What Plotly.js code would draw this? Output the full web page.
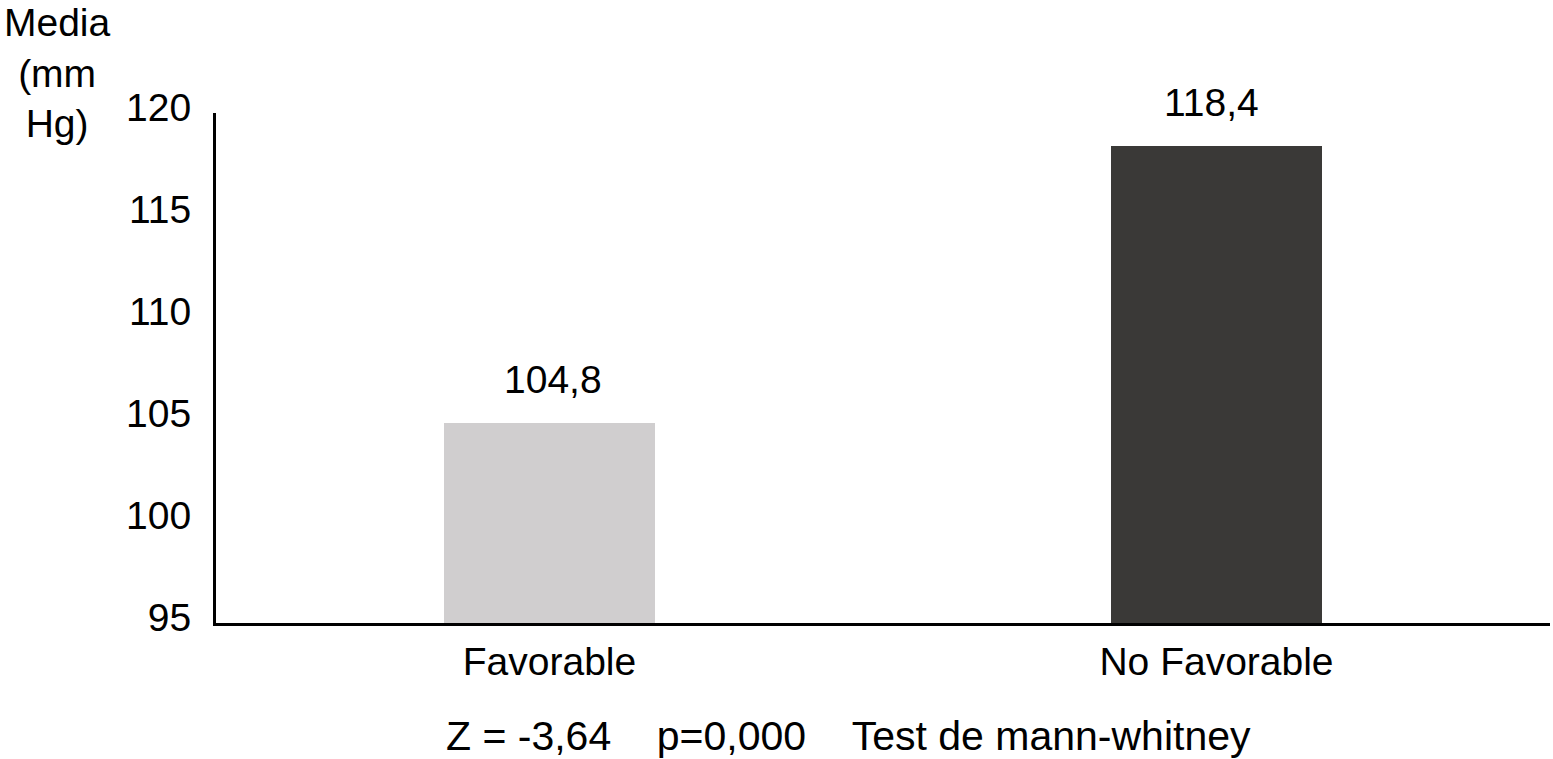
<!DOCTYPE html>
<html>
<head>
<meta charset="utf-8">
<script src="https://cdn.plot.ly/plotly-3.0.1.min.js"></script>
<style>html,body{margin:0;padding:0;background:#fff;}#chart{width:1553px;height:759px;}</style>
</head>
<body>
<div id="chart"></div>
<script>
const categories = ["Favorable", "No Favorable"];
const meanValues = [104.8, 118.4];
const barColors = ["#d0cecf", "#3a3937"];
const yTicks = [95, 100, 105, 110, 115, 120];
const yTitle = "Media<br>(mm<br>Hg)";
const footnote = "Z = -3,64&nbsp;&nbsp;&nbsp;&nbsp;p=0,000&nbsp;&nbsp;&nbsp;&nbsp;Test de mann-whitney";
const axisBase = 95;

const FONT = "Liberation Sans, Arial, Helvetica, sans-serif";

const trace = {
  type: "bar",
  x: categories,
  y: meanValues.map(v => v - axisBase),
  base: axisBase,
  width: 0.315,
  marker: {color: barColors, line: {width: 0}},
  hoverinfo: "x"
};

const labelAnnotations = categories.map((c, i) => ({
  x: c, y: meanValues[i], xref: "x", yref: "y",
  text: meanValues[i].toFixed(1).replace(".", ","),
  showarrow: false, yanchor: "bottom", yshift: 20, xshift: i === 0 ? 3 : -5,
  font: {family: FONT, size: 39, color: "#000"}
}));

const layout = {
  width: 1553, height: 759,
  margin: {l: 216, r: 3, t: 113, b: 136},
  paper_bgcolor: "#fff", plot_bgcolor: "#fff",
  showlegend: false,
  bargap: 0,
  xaxis: {
    type: "category", range: [-0.5, 1.5],
    showline: true, linecolor: "#000", linewidth: 3,
    showgrid: false, zeroline: false, ticks: "",
    ticklabelstandoff: 2,
    tickfont: {family: FONT, size: 39, color: "#000"}
  },
  yaxis: {
    range: [axisBase, 120],
    tickvals: yTicks, ticktext: yTicks.map(String),
    showline: true, linecolor: "#000", linewidth: 3,
    showgrid: false, zeroline: false, ticks: "",
    ticklabelstandoff: 14,
    ticklabelshift: -6,
    tickfont: {family: FONT, size: 39, color: "#000"}
  },
  annotations: labelAnnotations.concat([
    {xref: "paper", yref: "paper", x: -0.119, y: 1, xanchor: "center", yanchor: "bottom",
     yshift: -34, text: yTitle, showarrow: false, align: "center",
     font: {family: FONT, size: 39, color: "#000"}},
    {xref: "paper", yref: "paper", x: (848 - 216) / 1334, y: 0, xanchor: "center", yanchor: "middle",
     yshift: -113, text: footnote, showarrow: false,
     font: {family: FONT, size: 41, color: "#000"}}
  ])
};

Plotly.newPlot("chart", [trace], layout, {displayModeBar: false, staticPlot: true});
</script>
</body>
</html>
